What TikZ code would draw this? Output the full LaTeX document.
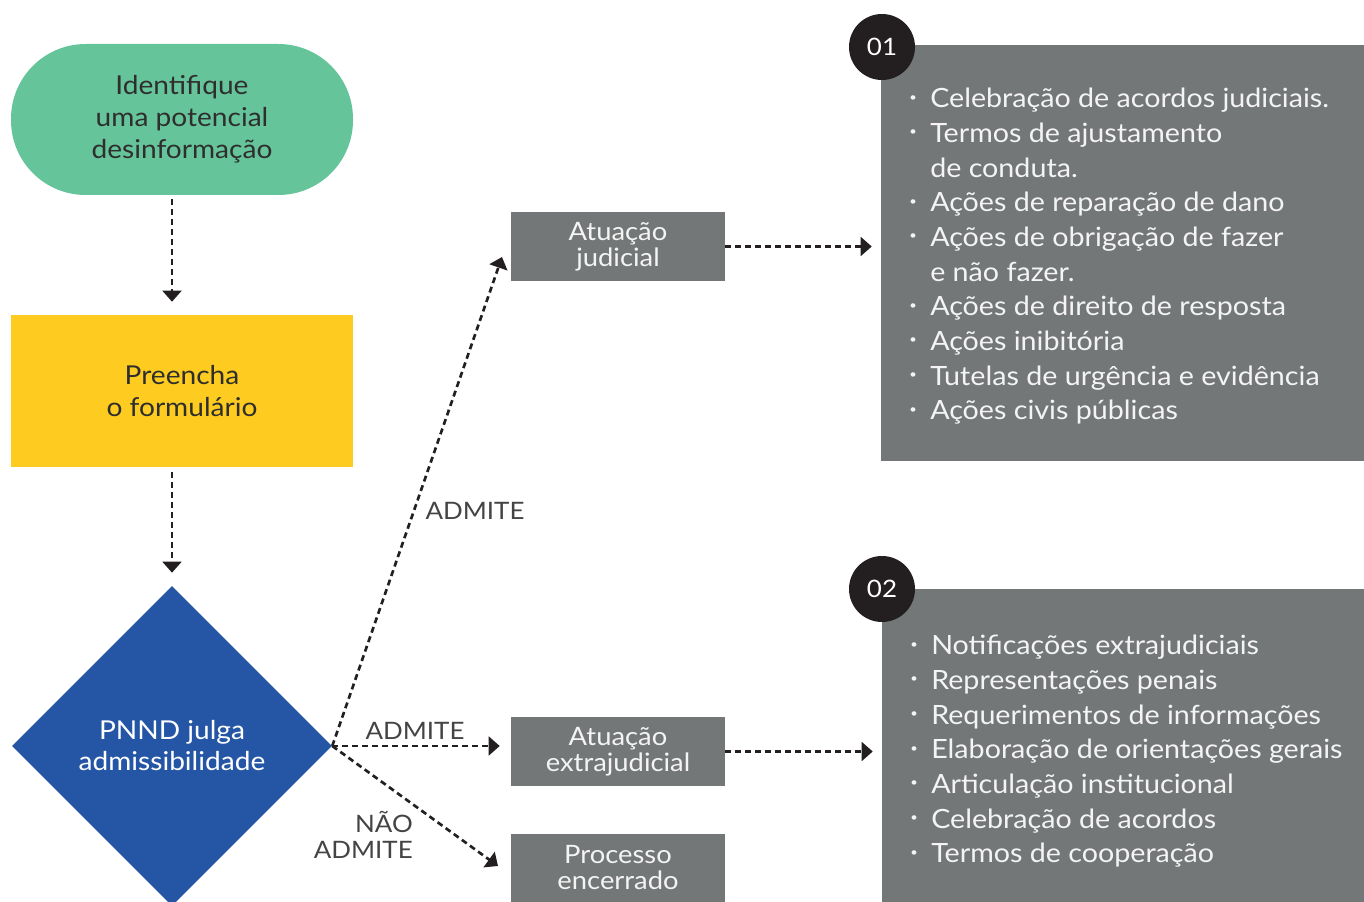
\documentclass[tikz,border=0pt]{standalone}
\usepackage{fontspec}
\setmainfont{Lato}[FakeStretch=1.08]
\usetikzlibrary{shapes.geometric,arrows.meta}
\definecolor{cgreen}{HTML}{66C49B}
\definecolor{cyellow}{HTML}{FECC20}
\definecolor{cblue}{HTML}{2456A5}
\definecolor{cgray}{HTML}{747778}
\definecolor{cdark}{HTML}{231F20}
\definecolor{ctext}{HTML}{2E2E2E}
\definecolor{clabel}{HTML}{444444}
\definecolor{cwhite}{HTML}{F4F4F4}
\newcommand{\bul}{\makebox[15.75pt][l]{\raisebox{0.25em}{\scalebox{0.45}{\textbullet}}}}
\newcommand{\cont}{\hspace*{15.75pt}}
\begin{document}
\begin{tikzpicture}[x=0.75pt,y=-0.75pt,
  flow/.style={draw=cdark, line width=2pt, dash pattern=on 4.5pt off 3pt,
    -{Triangle[length=8.25pt,width=14pt]}},
  startbox/.style={fill=cgreen, rounded corners=56pt, minimum width=256.5pt,
    minimum height=113.25pt, align=center, text=ctext, inner sep=0pt,
    font=\fontsize{19.5pt}{24pt}\selectfont},
  formbox/.style={fill=cyellow, minimum width=256.5pt, minimum height=114pt,
    align=center, text=ctext, inner sep=0pt, font=\fontsize{19.5pt}{24pt}\selectfont},
  decision/.style={diamond, fill=cblue, minimum width=240pt, minimum height=240pt,
    inner sep=0pt, align=center, text=white, font=\fontsize{19.5pt}{23.25pt}\selectfont},
  actbox/.style={fill=cgray, minimum width=160.5pt, minimum height=51.75pt,
    inner sep=0pt, align=center, text=cwhite, font=\fontsize{19pt}{19.5pt}\selectfont},
  panel/.style={fill=cgray, inner sep=0pt},
  numc/.style={circle, fill=cdark, minimum size=49.5pt, inner sep=0pt, text=white,
    font=\fontsize{18pt}{20pt}\selectfont},
  lab/.style={text=clabel, align=right, inner sep=0pt, font=\fontsize{18pt}{20pt}\selectfont},
  list/.style={text=cwhite, align=left, inner sep=0pt, anchor=north west,
    font=\fontsize{19.9pt}{26pt}\selectfont}
]
\useasboundingbox (0,0) rectangle (1364,902);

% left column
\node[startbox] (s) at (182,119.5) {Identifique\\uma potencial\\desinformação};
\node[formbox] (f) at (182,391) {Preencha\\o formulário};
\node[decision] (d) at (172,746) {PNND julga\\admissibilidade};

% action boxes
\node[actbox] (jud) at (618,246.5) {Atuação\\judicial};
\node[actbox] (ext) at (618,751.5) {Atuação\\extrajudicial};
\node[actbox] (enc) at (618,868) {Processo\\encerrado};

% panels
\node[panel, minimum width=362.25pt, minimum height=312pt] (p1) at (1122.5,253) {};
\node[panel, minimum width=361.5pt, minimum height=234.75pt] (p2) at (1123,745.5) {};
\node[numc] (n1) at (882,47) {01};
\node[numc] (n2) at (882,589) {02};

\node[list] (t1) at (909,88) {%
\bul Celebração de acordos judiciais.\\
\bul Termos de ajustamento\\
\cont de conduta.\\
\bul Ações de reparação de dano\\
\bul Ações de obrigação de fazer\\
\cont e não fazer.\\
\bul Ações de direito de resposta\\
\bul Ações inibitória\\
\bul Tutelas de urgência e evidência\\
\bul Ações civis públicas};

\node[list] (t2) at (910,635) {%
\bul Notificações extrajudiciais\\
\bul Representações penais\\
\bul Requerimentos de informações\\
\bul Elaboração de orientações gerais\\
\bul Articulação institucional\\
\bul Celebração de acordos\\
\bul Termos de cooperação};

% connectors
\coordinate (jtip) at (502,257);
\coordinate (etip) at (498,866);
\draw[flow, shorten <=3pt, shorten >=9.75pt] (s.south -| d.north) -- (f.north -| d.north);
\draw[flow, shorten <=3.75pt, shorten >=9.75pt] (f.south -| d.north) -- (d.north);
\draw[flow] (d.east) -- (jtip);
\draw[flow, shorten >=8.25pt] (d.east) -- (d.east -| ext.west);
\draw[flow] (d.east) -- (etip);
\draw[flow, shorten >=6.75pt] (jud.east) -- (jud.east -| p1.west);
\draw[flow, shorten >=6.75pt] (ext.east) -- (ext.east -| p2.west);

% labels
\node[lab] (l1) at (475,511) {ADMITE};
\node[lab] (l2) at (415,731) {ADMITE};
\node[lab, anchor=east] (l3) at (413,835) {NÃO\\ADMITE};
\end{tikzpicture}
\end{document}
